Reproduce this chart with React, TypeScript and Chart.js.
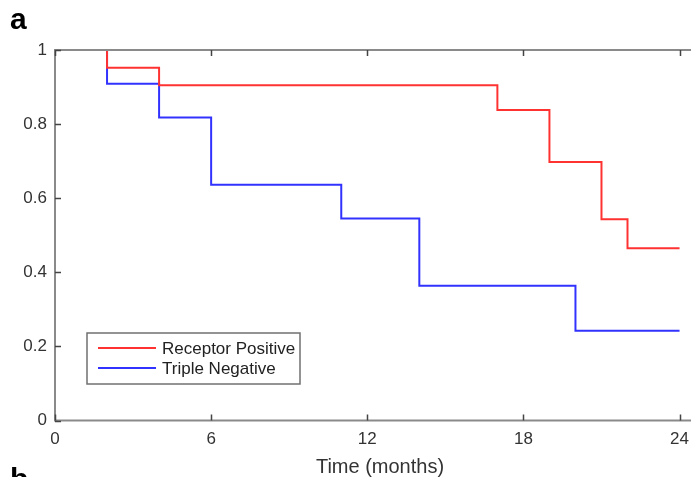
import React, { useEffect, useRef } from "react";
import { Chart, registerables } from "chart.js";

Chart.register(...registerables);

// Kaplan-Meier step data (time in months, survival fraction)
const rpTimes = [2, 2, 4, 17, 19, 21, 22, 24];
const rpSurvival = [1, 0.952, 0.905, 0.838, 0.698, 0.543, 0.465, 0.465];
const tnTimes = [2, 2, 4, 6, 11, 14, 20, 24];
const tnSurvival = [1, 0.909, 0.818, 0.636, 0.545, 0.364, 0.242, 0.242];

const seriesLabels = ["Receptor Positive", "Triple Negative"];
const seriesColors = ["rgb(255,50,50)", "rgb(50,50,255)"];
const xTicks = [0, 6, 12, 18, 24];
const yTicks = [0, 0.2, 0.4, 0.6, 0.8, 1];
const xTitle = "Time (months)";
const panelLabel = "a";
const nextPanelLabel = "b";

const FONT = "'Liberation Sans', Arial, sans-serif";

const decorPlugin = {
  id: "decor",
  afterDatasetsDraw(chart: any) {
    const ctx = chart.ctx;
    const { left, top, bottom } = chart.chartArea;
    const xs = chart.scales.x;
    const ys = chart.scales.y;
    ctx.save();
    // box (top, left, bottom; right side is cropped off)
    ctx.strokeStyle = "#8a8a8a";
    ctx.lineWidth = 2;
    ctx.beginPath();
    ctx.moveTo(691, top);
    ctx.lineTo(left, top);
    ctx.lineTo(left, bottom);
    ctx.lineTo(691, bottom);
    ctx.stroke();
    // inward ticks
    ctx.strokeStyle = "#444";
    ctx.lineWidth = 1.5;
    ctx.beginPath();
    xTicks.forEach((v) => {
      const px = Math.round(xs.getPixelForValue(v)) + 0.5;
      ctx.moveTo(px, bottom);
      ctx.lineTo(px, bottom - 6);
      ctx.moveTo(px, top);
      ctx.lineTo(px, top + 6);
    });
    yTicks.forEach((v) => {
      const py = Math.round(ys.getPixelForValue(v)) + 0.5;
      ctx.moveTo(left, py);
      ctx.lineTo(left + 6, py);
    });
    ctx.stroke();

    // legend
    const lx = 87, ly = 333, lw = 213, lh = 51;
    ctx.fillStyle = "#fff";
    ctx.fillRect(lx, ly, lw, lh);
    ctx.strokeStyle = "#707070";
    ctx.lineWidth = 1.5;
    ctx.strokeRect(lx, ly, lw, lh);
    ctx.font = `17px ${FONT}`;
    ctx.textBaseline = "middle";
    ctx.textAlign = "left";
    chart.data.datasets.forEach((ds: any, i: number) => {
      const yy = 348 + i * 20;
      ctx.strokeStyle = ds.borderColor;
      ctx.lineWidth = 2;
      ctx.beginPath();
      ctx.moveTo(98, yy);
      ctx.lineTo(156, yy);
      ctx.stroke();
      ctx.fillStyle = "#222";
      ctx.fillText(ds.label, 162, yy + 1);
    });

    // axis title
    ctx.font = `20px ${FONT}`;
    ctx.fillStyle = "#333";
    ctx.textAlign = "center";
    ctx.textBaseline = "alphabetic";
    ctx.fillText(xTitle, 380, 473);

    // panel labels
    ctx.font = `bold 30px ${FONT}`;
    ctx.fillStyle = "#000";
    ctx.textAlign = "left";
    ctx.fillText(panelLabel, 10, 29);
    ctx.fillText(nextPanelLabel, 10, 489);
    ctx.restore();
  },
};

export default function App() {
  const ref = useRef<HTMLCanvasElement>(null);
  useEffect(() => {
    document.body.style.margin = "0";
    const mk = (t: number[], s: number[]) => t.map((x, i) => ({ x, y: s[i] }));
    const chart = new Chart(ref.current!, {
      type: "line",
      data: {
        datasets: [
          {
            label: seriesLabels[0],
            data: mk(rpTimes, rpSurvival),
            borderColor: seriesColors[0],
            borderWidth: 2,
            stepped: "before",
            pointRadius: 0,
            fill: false,
          },
          {
            label: seriesLabels[1],
            data: mk(tnTimes, tnSurvival),
            borderColor: seriesColors[1],
            borderWidth: 2,
            stepped: "before",
            pointRadius: 0,
            fill: false,
          },
        ],
      },
      options: {
        animation: false,
        responsive: false,
        devicePixelRatio: 1,
        layout: { padding: { top: 50, left: 0, right: 0, bottom: 0 } },
        plugins: { legend: { display: false }, tooltip: { enabled: false } },
        scales: {
          x: {
            type: "linear",
            min: 0,
            max: 24.44,
            grid: { display: false, drawTicks: false },
            border: { display: false },
            afterBuildTicks: (s: any) => {
              s.ticks = xTicks.map((v) => ({ value: v }));
            },
            afterFit: (s: any) => {
              s.height = 56.5;
              s.paddingLeft = 0;
              s.paddingRight = 0;
            },
            ticks: {
              font: { size: 17, family: FONT },
              color: "#333",
              padding: 9,
              maxRotation: 0,
              callback: (v: any) => String(v),
            },
          },
          y: {
            min: 0,
            max: 1,
            grid: { display: false, drawTicks: false },
            border: { display: false },
            afterBuildTicks: (s: any) => {
              s.ticks = yTicks.map((v) => ({ value: v }));
            },
            afterFit: (s: any) => {
              s.width = 55;
              s.paddingTop = 0;
              s.paddingBottom = 0;
            },
            ticks: {
              font: { size: 17, family: FONT },
              color: "#333",
              padding: 8,
              callback: (v: any) => String(Math.round(Number(v) * 10) / 10),
            },
          },
        },
      },
      plugins: [decorPlugin],
    });
    return () => chart.destroy();
  }, []);
  return (
    <div style={{ width: 691, height: 477, background: "#fff" }}>
      <canvas ref={ref} width={691} height={477} style={{ display: "block" }} />
    </div>
  );
}
